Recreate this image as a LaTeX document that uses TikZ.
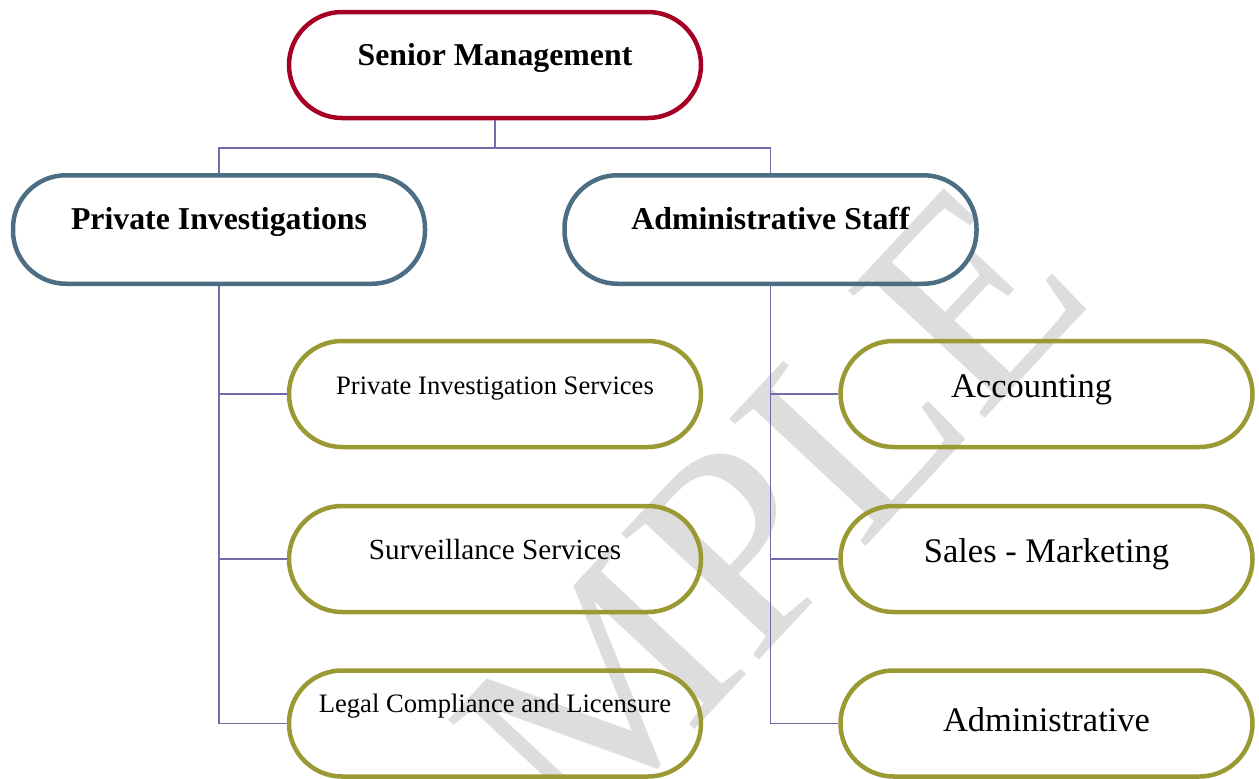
\documentclass[tikz,border=0pt]{standalone}
\usepackage{fontspec}
\setmainfont{Liberation Serif}
\usepackage{tikz}
\usepackage{xcolor}

\definecolor{topred}{RGB}{165,0,36}
\definecolor{slateblue}{RGB}{77,109,130}
\definecolor{olive}{RGB}{155,153,52}
\definecolor{linkblue}{RGB}{112,110,170}
\definecolor{markgray}{RGB}{221,221,221}

\begin{document}
\begin{tikzpicture}[x=1pt,y=-1pt,
    pill/.style={draw, line width=4.5pt, rectangle, rounded corners=53pt,
      inner sep=0pt, minimum width=412pt, minimum height=106pt,
      text height=0pt, text depth=0pt},
    headbox/.style={pill, draw=topred, font=\bfseries\fontsize{31.8}{36}\selectfont},
    deptbox/.style={pill, draw=slateblue, minimum height=108.5pt,
      font=\bfseries\fontsize{31.8}{36}\selectfont},
    unitbox/.style={pill, draw=olive},
    bigunit/.style={unitbox, font=\fontsize{34.5}{38}\selectfont, text height=6pt},
    link/.style={draw=linkblue, line width=1.4pt}]
  \useasboundingbox (0,0) rectangle (1259,779);
  \clip (0,0) rectangle (1259,779);

  % watermark behind everything
  \node[rotate=47, text=markgray, font=\fontsize{285}{285}\selectfont]
    (mark) at (647,645) {SAMPLE};

  % top level
  \node[headbox] (senior) at (495,65) {Senior Management};
  \coordinate (split) at (495,148);

  % departments
  \node[deptbox] (pinv) at (219,229.5) {Private Investigations};
  \node[deptbox] (admin) at (770.5,229.5) {Administrative Staff};

  % units under each department
  \node[unitbox, font=\fontsize{26.6}{30}\selectfont] (pis) at (495,394)
    {Private Investigation Services};
  \node[unitbox, font=\fontsize{29.2}{33}\selectfont] (surv) at (495,559)
    {Surveillance Services};
  \node[unitbox, font=\fontsize{26.6}{30}\selectfont, text depth=22pt] (legal) at (495,723.5)
    {Legal Compliance and Licensure};

  \node[bigunit] (acct) at (1046.5,394) {Accounting\hspace*{30pt}};
  \node[bigunit] (sales) at (1046.5,559) {Sales - Marketing};
  \node[bigunit, text height=16pt] (office) at (1046.5,723.5) {Administrative};

  % connectors
  \draw[link] (senior.south) -- (split);
  \draw[link] (split) -| (pinv.north);
  \draw[link] (split) -| (admin.north);
  \foreach \u in {pis,surv,legal}
    \draw[link] (pinv.south) |- (\u.west);
  \foreach \u in {acct,sales,office}
    \draw[link] (admin.south) |- (\u.west);
\end{tikzpicture}
\end{document}
